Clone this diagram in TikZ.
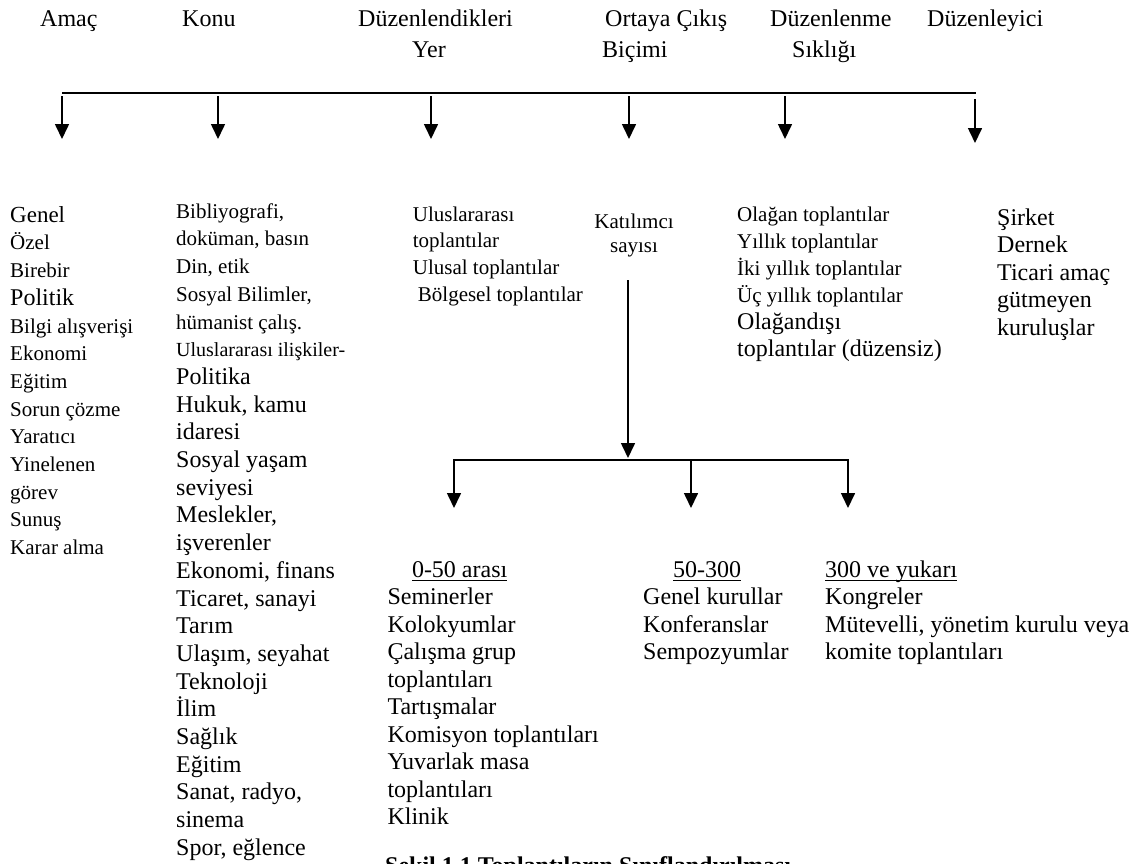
\documentclass[tikz,border=0pt]{standalone}
\usepackage{fontspec}
\setmainfont{Liberation Serif}
\usetikzlibrary{arrows.meta}

% font size helpers: size / line pitch
\newcommand\fs[2]{\fontsize{#1}{#2}\selectfont}
\newcommand\lgl[1]{{\fontsize{24}{27.7}\selectfont #1}}
% underline drawn as a rule just below the baseline
\newsavebox\ulsave
\newcommand\ulbox[1]{\sbox\ulsave{#1}\rlap{\rule[-3.5pt]{\wd\ulsave}{1.2pt}}\usebox\ulsave}

\begin{document}
\begin{tikzpicture}[x=1pt,y=-1pt,
  head/.style={font=\fs{24}{28}, anchor=base west, inner sep=0pt},
  col/.style={anchor=north west, inner sep=0pt, align=left},
  link/.style={line width=1.6pt},
  arr/.style={line width=1.6pt, -{Triangle[length=15pt,width=14pt]}},
]
\clip (0,0) rectangle (1139,863);
\fill[white] (0,0) rectangle (1139,863);

% ---- category headings
\node[head] (hAmac) at (40,26)   {Amaç};
\node[head] (hKonu) at (182,26)  {Konu};
\node[head] (hYer1) at (358,26)  {Düzenlendikleri};
\node[head] (hYer2) at (412,57.5){Yer};
\node[head] (hBic1) at (605,26)  {Ortaya Çıkış};
\node[head] (hBic2) at (602,57.5){Biçimi};
\node[head] (hSik1) at (770,26)  {Düzenlenme};
\node[head] (hSik2) at (792,57.5){Sıklığı};
\node[head] (hDuz)  at (927,26)  {Düzenleyici};

% ---- top distribution bar and its arrows
\coordinate (busL) at (62,93);
\coordinate (busR) at (976,93);
\draw[link] (busL) -- (busR);
\foreach \nm/\x in {a/62, b/218, c/431, d/629, e/785}{
  \coordinate (s-\nm) at (\x,96);
  \coordinate (t-\nm) at (\x,139);
  \draw[arr] (s-\nm) -- (t-\nm);
}
\coordinate (s-f) at (975,99);
\coordinate (t-f) at (975,143);
\draw[arr] (s-f) -- (t-f);

% ---- Amaç
\node[col, font=\fs{21}{27.7}] (amac) at (10,202.6) {%
  \strut{\fs{23}{27.7}Genel}\\Özel\\Birebir\\\lgl{Politik}\\Bilgi alışverişi\\Ekonomi\\%
  Eğitim\\Sorun çözme\\Yaratıcı\\Yinelenen\\görev\\Sunuş\\Karar alma};

% ---- Konu
\node[col, font=\fs{21}{27.7}] (konu) at (176,198.6) {%
  \strut Bibliyografi,\\doküman, basın\\Din, etik\\Sosyal Bilimler,\\hümanist çalış.\\%
  {\fs{20}{27.7}Uluslararası ilişkiler-}\\\lgl{Politika}\\\lgl{Hukuk, kamu}\\\lgl{idaresi}\\%
  \lgl{Sosyal yaşam}\\\lgl{seviyesi}\\\lgl{Meslekler,}\\\lgl{işverenler}\\%
  \lgl{Ekonomi, finans}\\\lgl{Ticaret, sanayi}\\\lgl{Tarım}\\\lgl{Ulaşım, seyahat}\\%
  \lgl{Teknoloji}\\\lgl{İlim}\\\lgl{Sağlık}\\\lgl{Eğitim}\\\lgl{Sanat, radyo,}\\%
  \lgl{sinema}\\\lgl{Spor, eğlence}};

% ---- Düzenlendikleri yer
\node[col, font=\fs{21}{26.7}] (yer) at (412.7,202.3) {%
  \strut Uluslararası\\toplantılar\\Ulusal toplantılar\\\hspace*{5pt}Bölgesel toplantılar};

% ---- Ortaya çıkış biçimi
\node[anchor=north, inner sep=0pt, align=center, font=\fs{21}{24}] (kat) at (634,211.2) {%
  \strut Katılımcı\\sayısı};

% ---- Düzenlenme sıklığı
\node[col, font=\fs{21}{27}] (sik) at (737,202.1) {%
  \strut Olağan toplantılar\\Yıllık toplantılar\\İki yıllık toplantılar\\Üç yıllık toplantılar\\%
  {\fs{24}{27}Olağandışı}\\{\fs{24}{27}toplantılar (düzensiz)}};

% ---- Düzenleyici
\node[col, font=\fs{24}{27.5}] (duz) at (997,205.8) {%
  \strut Şirket\\Dernek\\Ticari amaç\\gütmeyen\\kuruluşlar};

% ---- participant-count branch
\coordinate (katOut) at (628,280);
\coordinate (hub)    at (628,458);
\draw[arr] (katOut) -- (hub);
\coordinate (bl) at (454,460);
\coordinate (bm) at (691,460);
\coordinate (br) at (848,460);
\coordinate (dl) at (454,508);
\coordinate (dm) at (691,508);
\coordinate (dr) at (848,508);
\draw[arr] (bm) -- (bl) -- (dl);
\draw[arr] (bm) -- (br) -- (dr);
\draw[arr] (bm) -- (dm);

% ---- participant-count groups
\node[col, font=\fs{24}{27.5}] (g1) at (387.3,557.75) {%
  \strut\hspace*{24.5pt}\ulbox{0-50 arası}\\Seminerler\\Kolokyumlar\\Çalışma grup\\toplantıları\\%
  Tartışmalar\\Komisyon toplantıları\\Yuvarlak masa\\toplantıları\\Klinik};
\node[col, font=\fs{24}{27.5}] (g2) at (643,557.75) {%
  \strut\hspace*{30pt}\ulbox{50-300}\\Genel kurullar\\Konferanslar\\Sempozyumlar};
\node[col, font=\fs{24}{27.5}] (g3) at (825,557.75) {%
  \strut\ulbox{300 ve yukarı}\\Kongreler\\Mütevelli, yönetim kurulu veya\\komite toplantıları};

% ---- figure caption
\node[anchor=base west, inner sep=0pt, font=\bfseries\fs{24}{28}] (cap) at (385,873)
  {Şekil 1.1 Toplantıların Sınıflandırılması};
\end{tikzpicture}
\end{document}
